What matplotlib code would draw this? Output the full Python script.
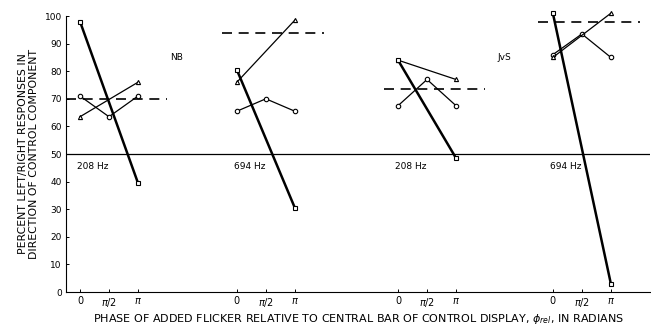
import matplotlib.pyplot as plt
import numpy as np

# phase steps 0, pi/2, pi in units of pi/2
phases = [0, 1, 2]
phase_labels = ['0', r'$\pi/2$', r'$\pi$']

subjects = ['NB', 'NB', 'JvS', 'JvS']
freqs = ['208 Hz', '694 Hz', '208 Hz', '694 Hz']

# percent responses per condition (None = no point at that phase)
thick_vals = [[98, None, 39.5], [80.5, None, 30.5], [84, None, 48.5], [101, None, 3]]
circle_vals = [[71, 63.5, 71], [65.5, 70, 65.5], [67.5, 77, 67.5], [86, 93.5, 85]]
tri_vals = [[63.5, None, 76], [76, None, 98.5], [84, None, 77], [85, None, 101]]
dashed_vals = [70, 94, 73.5, 98]

offsets = [0, 5.41, 10.97, 16.31]

fig = plt.figure(figsize=(6.51, 3.28), dpi=100)
ax = fig.add_axes([66 / 651, 36 / 328, 584 / 651, 276 / 328])
ax.set_xlim(-0.483, 19.66)
ax.set_ylim(0, 100)


def pts(vals, off):
    xs = [off + p for p, v in zip(phases, vals) if v is not None]
    ys = [v for v in vals if v is not None]
    return xs, ys


for i, off in enumerate(offsets):
    ax.plot([off - 0.5, off + 3.0], [dashed_vals[i]] * 2, color='black',
            lw=1.2, dashes=(6, 4), clip_on=False)
    x, y = pts(circle_vals[i], off)
    ax.plot(x, y, color='black', lw=0.9, marker='o', ms=3.2,
            mfc='white', mew=0.8, clip_on=False)
    x, y = pts(tri_vals[i], off)
    ax.plot(x, y, color='black', lw=0.9, marker='^', ms=3.0,
            mfc='white', mew=0.8, clip_on=False)
    x, y = pts(thick_vals[i], off)
    ax.plot(x, y, color='black', lw=1.8, marker='s', ms=3.2,
            mfc='white', mew=0.8, clip_on=False, zorder=3)
    ax.text(off - 0.1, 45.5, freqs[i], fontsize=6.5, ha='left', va='center')

ax.text(3.1, 85, subjects[0], fontsize=6.5, ha='left', va='center')
ax.text(14.41, 85, subjects[2], fontsize=6.5, ha='left', va='center')

# chance level
ax.axhline(50, color='black', lw=0.9)

ticks = [off + p for off in offsets for p in phases]
ax.set_xticks(ticks)
ax.set_xticklabels(phase_labels * 4, fontsize=7)
ax.set_yticks(np.arange(0, 101, 10))
ax.set_yticklabels([str(v) for v in range(0, 101, 10)], fontsize=6.5)
ax.tick_params(direction='in', length=2, width=0.7, pad=3)

for s in ['top', 'right']:
    ax.spines[s].set_visible(False)
ax.spines['left'].set_linewidth(0.8)
ax.spines['bottom'].set_linewidth(0.8)

ax.set_ylabel('PERCENT LEFT/RIGHT RESPONSES IN\nDIRECTION OF CONTROL COMPONENT',
              fontsize=7.8, linespacing=1.15, labelpad=4)
ax.set_xlabel(r'PHASE OF ADDED FLICKER RELATIVE TO CENTRAL BAR OF CONTROL DISPLAY, $\phi_{rel}$, IN RADIANS',
              fontsize=8, labelpad=2)

fig.savefig('out.png', dpi=100)
